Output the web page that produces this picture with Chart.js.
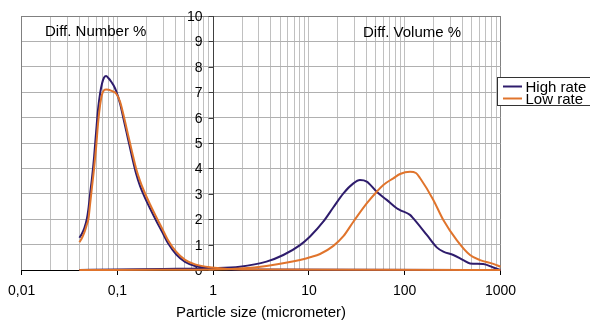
<!DOCTYPE html>
<html><head><meta charset="utf-8">
<script src="https://cdn.jsdelivr.net/npm/chart.js@4/dist/chart.umd.min.js"></script>
<style>html,body{margin:0;padding:0;background:#fff}</style>
</head><body>
<canvas id="c" width="590" height="322"></canvas>
<script>
const seriesNames = ['High rate', 'Low rate'];
const seriesColors = ['#2e1c6c', '#e0742c'];
const panelLabels = ['Diff. Number %', 'Diff. Volume %'];
const xTitle = 'Particle size (micrometer)';
const xTickLabels = ['0,01', '0,1', '1', '10', '100', '1000'];
const yTickLabels = ['0', '1', '2', '3', '4', '5', '6', '7', '8', '9', '10'];

// Differential number distribution (both series share the size classes)
const numberSizes = [0.0401, 0.0425, 0.0452, 0.0479, 0.0498, 0.0519, 0.0544, 0.0571, 0.0600, 0.0629, 0.0660, 0.0692, 0.0726, 0.0762, 0.0809, 0.0859, 0.0908, 0.0969, 0.1067, 0.1175, 0.1293, 0.1423, 0.1567, 0.1726, 0.19, 0.2195, 0.2535, 0.2928, 0.3382, 0.41, 0.5089, 0.6471, 0.974, 2, 1000];
const numberHigh = [1.27, 1.42, 1.65, 2.0, 2.4, 3.0, 3.65, 4.45, 5.45, 6.35, 6.95, 7.35, 7.58, 7.64, 7.55, 7.42, 7.28, 7.05, 6.55, 5.85, 5.15, 4.45, 3.8, 3.3, 2.92, 2.42, 1.95, 1.5, 1.05, 0.62, 0.32, 0.16, 0.07, 0.02, 0];
const numberLow  = [1.09, 1.25, 1.48, 1.78, 2.0, 2.6, 3.3, 4.0, 4.85, 5.8, 6.5, 6.92, 7.08, 7.11, 7.1, 7.06, 7.02, 6.95, 6.62, 6.0, 5.32, 4.65, 4.0, 3.5, 3.1, 2.58, 2.1, 1.64, 1.17, 0.72, 0.4, 0.22, 0.1, 0.02, 0];

// Differential volume distribution
const volumeHighSizes = [0.04, 0.1, 0.3, 1, 1.9, 3.6, 5.4, 8.07, 10.27, 14.1, 18.0, 22.9, 29.1, 34.1, 40.1, 51, 64.9, 82.5, 89.3, 113.6, 123, 170, 216, 253, 322, 409, 481, 661, 841, 1000];
const volumeHigh = [0, 0.02, 0.04, 0.07, 0.13, 0.33, 0.59, 0.98, 1.32, 1.9, 2.47, 3.02, 3.41, 3.54, 3.48, 3.08, 2.76, 2.43, 2.36, 2.17, 2.03, 1.38, 0.89, 0.72, 0.59, 0.39, 0.26, 0.24, 0.1, 0];
const volumeLowSizes = [0.04, 0.3, 1, 1.9, 3.6, 8.07, 10.27, 13.06, 18.0, 22.9, 29.1, 40.1, 51, 59.8, 76, 89.3, 113.6, 131, 145, 199, 253, 349, 481, 611, 841, 1000];
const volumeLow = [0, 0.01, 0.02, 0.06, 0.16, 0.39, 0.5, 0.63, 0.95, 1.33, 1.9, 2.62, 3.08, 3.35, 3.61, 3.78, 3.87, 3.82, 3.61, 2.76, 1.97, 1.18, 0.59, 0.39, 0.24, 0.13];

const FONT = '"Liberation Sans", Arial, sans-serif';

function pts(xs, ys) { return xs.map((x, i) => ({ x: x, y: ys[i] })); }
function ds(label, color, xs, ys) {
  return { label: label, data: pts(xs, ys), borderColor: color, backgroundColor: color,
    borderWidth: 2, pointRadius: 0, pointHoverRadius: 0, fill: false,
    cubicInterpolationMode: 'monotone', clip: false };
}

const customDraw = {
  id: 'customDraw',
  beforeDatasetsDraw(chart) {
    const { ctx, scales: { x, y } } = chart;
    const ax = Math.round(x.getPixelForValue(1)) + 0.5;
    ctx.save();
    ctx.strokeStyle = '#404040';
    ctx.lineWidth = 1;
    ctx.beginPath();
    ctx.moveTo(ax, y.getPixelForValue(10));
    ctx.lineTo(ax, y.getPixelForValue(0));
    ctx.stroke();
    ctx.font = '14px ' + FONT;
    ctx.fillStyle = '#000';
    ctx.textAlign = 'right';
    ctx.textBaseline = 'middle';
    yTickLabels.forEach((lab, i) => {
      const py = Math.round(y.getPixelForValue(i)) + 0.5;
      ctx.beginPath();
      ctx.moveTo(ax - 5, py);
      ctx.lineTo(ax, py);
      ctx.stroke();
      ctx.fillText(lab, ax - 11, py + 1);
    });
    ctx.restore();
  },
  afterDraw(chart) {
    const { ctx } = chart;
    ctx.save();
    ctx.fillStyle = '#000';
    ctx.font = '15px ' + FONT;
    ctx.textAlign = 'left';
    ctx.textBaseline = 'alphabetic';
    ctx.fillText(panelLabels[0], 45, 36);
    ctx.fillText(panelLabels[1], 363, 36.5);
    // legend
    ctx.fillStyle = '#fff';
    ctx.fillRect(497.5, 77.5, 100, 28);
    ctx.strokeStyle = '#333';
    ctx.lineWidth = 1;
    ctx.strokeRect(497.5, 77.5, 100, 28);
    seriesNames.forEach((name, i) => {
      const ly = 86.5 + i * 12;
      ctx.strokeStyle = seriesColors[i];
      ctx.lineWidth = 2;
      ctx.beginPath();
      ctx.moveTo(503, ly);
      ctx.lineTo(522, ly);
      ctx.stroke();
      ctx.fillStyle = '#000';
      ctx.fillText(name, 525.5, 91.7 + i * 12);
    });
    ctx.restore();
  }
};

new Chart(document.getElementById('c'), {
  type: 'line',
  data: {
    datasets: [
      ds(seriesNames[1], seriesColors[1], numberSizes, numberLow),
      ds(seriesNames[1], seriesColors[1], volumeLowSizes, volumeLow),
      ds(seriesNames[0], seriesColors[0], numberSizes, numberHigh),
      ds(seriesNames[0], seriesColors[0], volumeHighSizes, volumeHigh)
    ]
  },
  options: {
    responsive: false,
    animation: false,
    devicePixelRatio: 1,
    layout: { padding: { left: 21.5, right: 89.5, top: 16, bottom: 0 } },
    plugins: { legend: { display: false }, tooltip: { enabled: false } },
    scales: {
      x: {
        type: 'logarithmic', position: 'bottom', min: 0.01, max: 1000,
        afterBuildTicks(scale) {
          const t = [];
          for (let e = -2; e <= 2; e++) for (let m = 1; m <= 9; m++) t.push({ value: +(m * Math.pow(10, e)).toPrecision(3) });
          t.push({ value: 1000 });
          scale.ticks = t;
        },
        afterFit(scale) { scale.height = 52; },
        ticks: {
          autoSkip: false, maxRotation: 0, minRotation: 0, padding: 8, color: '#000',
          font: { family: FONT, size: 14 },
          callback: (v, i) => (i % 9 === 0 ? xTickLabels[i / 9] : '')
        },
        grid: {
          color: (c) => (c.tick && (c.tick.value === 0.01 || c.tick.value === 1000)) ? '#808080' : '#c0c0c0',
          tickColor: (c) => (c.index % 9 === 0 ? '#000' : 'rgba(0,0,0,0)'),
          tickLength: 5, lineWidth: 1
        },
        border: { display: true, color: '#000', width: 1 },
        title: { display: true, text: xTitle, color: '#000', font: { family: FONT, size: 15 }, padding: 0 }
      },
      y: {
        type: 'linear', position: 'left', min: 0, max: 10,
        afterFit(scale) { scale.width = 0; },
        ticks: { display: false, stepSize: 1 },
        grid: {
          color: (c) => (c.tick && c.tick.value === 10) ? '#808080' : (c.tick && c.tick.value === 0 ? '#000' : '#b0b0b0'),
          drawTicks: false, lineWidth: 1
        },
        border: { display: false }
      }
    }
  },
  plugins: [customDraw]
});
</script>
</body></html>
